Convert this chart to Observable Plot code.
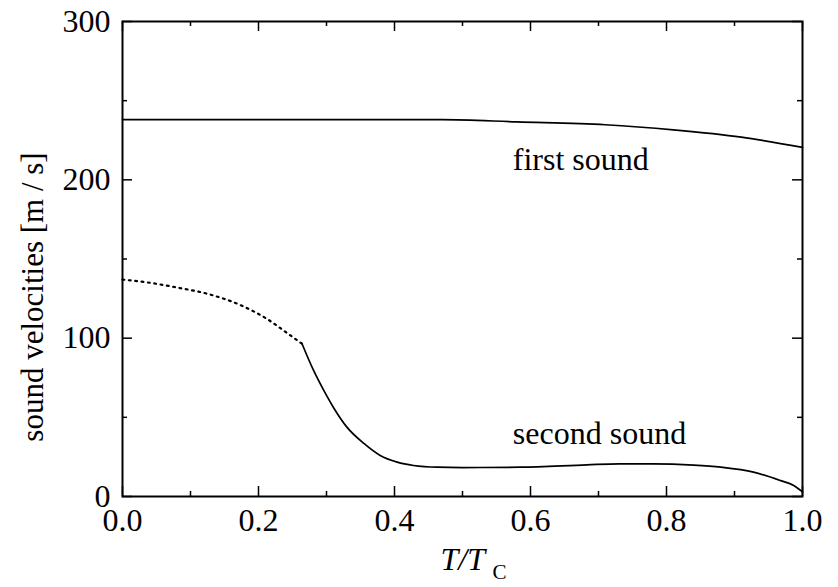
<!DOCTYPE html>
<html>
<head>
<meta charset="utf-8">
<script src="https://cdn.jsdelivr.net/npm/d3@7"></script>
<script src="https://cdn.jsdelivr.net/npm/@observablehq/plot@0.6"></script>
<style>
  html, body { margin: 0; padding: 0; background: #fff; }
</style>
</head>
<body>
<div id="chart"></div>
<script>
// ---- data ----
const firstT = [0, 0.1, 0.2, 0.3, 0.4, 0.47, 0.58, 0.71, 0.81, 0.91, 1.0];
const firstV = [238, 238, 238, 238, 238, 238, 236.6, 234.8, 231.6, 227, 220.5];

const secondDotT = [0, 0.04, 0.08, 0.125, 0.175, 0.213, 0.247, 0.264];
const secondDotV = [137, 135, 132, 128, 120.6, 112, 101.7, 96.5];

const secondT = [0.264, 0.281, 0.296, 0.31, 0.33, 0.355, 0.379, 0.404, 0.428, 0.463, 0.5, 0.585, 0.683, 0.73, 0.78, 0.84, 0.88, 0.928, 0.968, 0.987, 1.0];
const secondV = [96.5, 79.6, 67, 56.4, 43.8, 33.5, 25.9, 21.7, 19.6, 18.5, 18.3, 18.5, 20, 20.6, 20.6, 19.8, 18.5, 15.4, 10, 7, 3];

const xMajor = [0, 0.2, 0.4, 0.6, 0.8, 1.0];
const xMinor = [0.1, 0.3, 0.5, 0.7, 0.9];
const yMajor = [0, 100, 200, 300];
const yMinor = [50, 150, 250];

const curveLabels = [
  {t: 0.574, v: 212.8, text: "first sound"},
  {t: 0.574, v: 39.8, text: "second sound"}
];

const toRows = (ts, vs) => ts.map((t, i) => ({t, v: vs[i]}));
const first = toRows(firstT, firstV);
const secondDot = toRows(secondDotT, secondDotV);
const second = toRows(secondT, secondV);

// ---- layout ----
const W = 838, H = 587;
const mL = 122, mR = 36, mT = 21, mB = 91;
const innerH = H - mT - mB, innerW = W - mL - mR;
const majLen = 10, minLen = 5;
const font = "Liberation Serif, Times New Roman, serif";

const chart = Plot.plot({
  width: W,
  height: H,
  marginLeft: mL,
  marginRight: mR,
  marginTop: mT,
  marginBottom: mB,
  style: {fontFamily: font, fontSize: "32px", color: "#000", background: "#fff"},
  x: {domain: [0, 1]},
  y: {domain: [0, 300]},
  marks: [
    // tick labels
    Plot.axisX({ticks: xMajor, tickFormat: d3.format(".1f"), tickSize: 0, tickPadding: 12, fontSize: 32, label: null}),
    Plot.axisY({ticks: yMajor, tickFormat: d3.format("d"), tickSize: 0, tickPadding: 12, fontSize: 32, label: null}),
    // inward ticks, bottom & top
    Plot.tickX(xMajor, {x: d => d, insetTop: innerH - majLen, stroke: "black", strokeWidth: 1.5}),
    Plot.tickX(xMinor, {x: d => d, insetTop: innerH - minLen, stroke: "black", strokeWidth: 1.5}),
    Plot.tickX(xMajor, {x: d => d, insetBottom: innerH - majLen, stroke: "black", strokeWidth: 1.5}),
    Plot.tickX(xMinor, {x: d => d, insetBottom: innerH - minLen, stroke: "black", strokeWidth: 1.5}),
    // inward ticks, left & right
    Plot.tickY(yMajor, {y: d => d, insetRight: innerW - majLen, stroke: "black", strokeWidth: 1.5}),
    Plot.tickY(yMinor, {y: d => d, insetRight: innerW - minLen, stroke: "black", strokeWidth: 1.5}),
    Plot.tickY(yMajor, {y: d => d, insetLeft: innerW - majLen, stroke: "black", strokeWidth: 1.5}),
    Plot.tickY(yMinor, {y: d => d, insetLeft: innerW - minLen, stroke: "black", strokeWidth: 1.5}),
    Plot.frame({stroke: "black", strokeWidth: 2}),
    // curves
    Plot.line(first, {x: "t", y: "v", curve: "monotone-x", stroke: "black", strokeWidth: 1.7}),
    Plot.line(secondDot, {x: "t", y: "v", curve: "monotone-x", stroke: "black", strokeWidth: 2.2, strokeDasharray: "1.8,4.6"}),
    Plot.line(second, {x: "t", y: "v", curve: "monotone-x", stroke: "black", strokeWidth: 1.7}),
    // curve labels
    Plot.text(curveLabels, {x: "t", y: "v", text: "text", textAnchor: "start", lineAnchor: "middle", fontSize: 32, fill: "black"}),
    // x-axis title T/T_C
    Plot.text([{s: "T/T"}], {text: "s", frameAnchor: "bottom", textAnchor: "start", lineAnchor: "middle", dx: -22, dy: 63, fontSize: 32, fontStyle: "italic", fill: "black"}),
    Plot.text([{s: "C"}], {text: "s", frameAnchor: "bottom", textAnchor: "start", lineAnchor: "middle", dx: 30, dy: 76, fontSize: 21, fill: "black"}),
    // y-axis title
    Plot.text([{s: "sound velocities [m / s]"}], {text: "s", frameAnchor: "left", rotate: -90, textAnchor: "middle", lineAnchor: "middle", dx: -89, dy: 38, fontSize: 31, fill: "black"})
  ]
});

document.getElementById("chart").appendChild(chart);
</script>
</body>
</html>
